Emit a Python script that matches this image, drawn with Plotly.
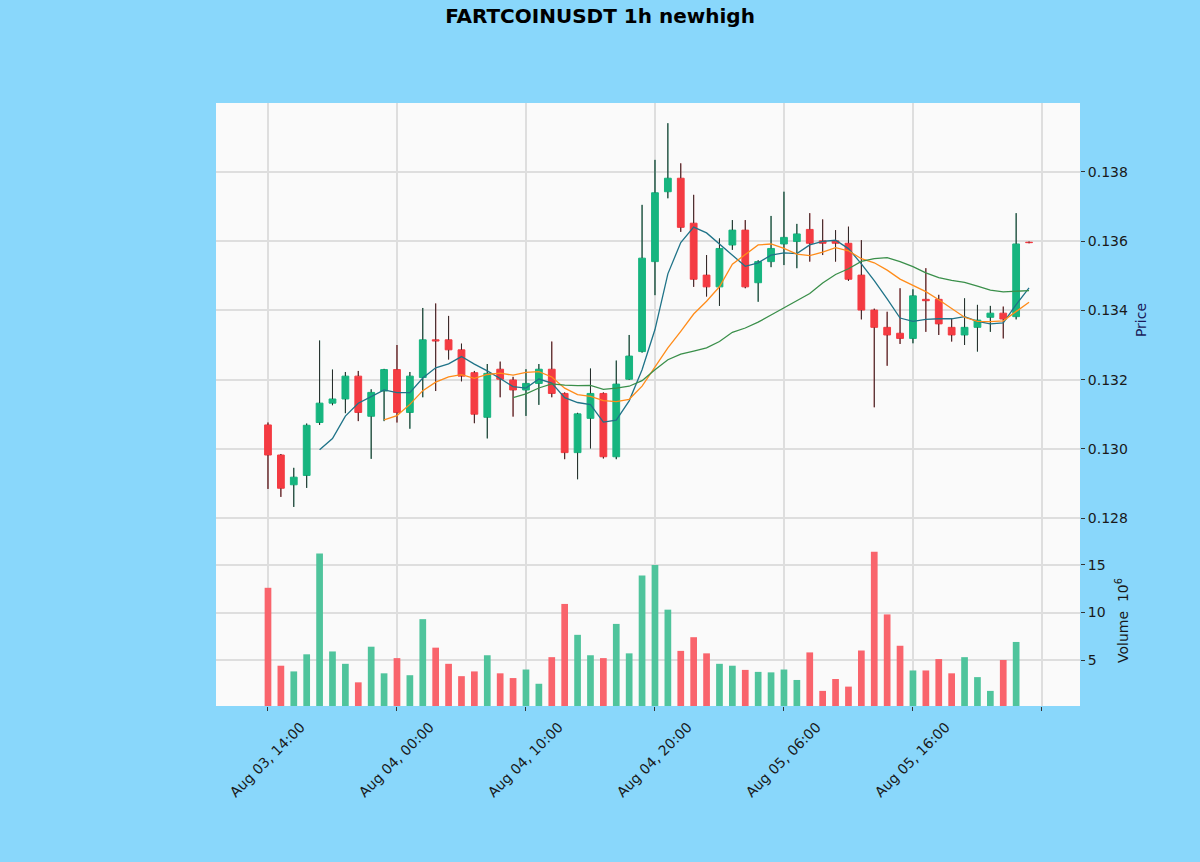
import pandas as pd
import plotly.graph_objects as go

# hourly candles, Aug 03 14:00 -> Aug 06 01:00
opens = [0.13069, 0.12982, 0.12896, 0.12923, 0.13076, 0.13132, 0.13144, 0.13210, 0.13094, 0.13167,
         0.13229, 0.13105, 0.13206, 0.13315, 0.13315, 0.13286, 0.13220, 0.13091, 0.13230, 0.13199,
         0.13170, 0.13189, 0.13230, 0.13160, 0.12989, 0.13088, 0.13160, 0.12977, 0.13201, 0.13281,
         0.13541, 0.13743, 0.13782, 0.13652, 0.13502, 0.13468, 0.13589, 0.13632, 0.13480, 0.13541,
         0.13592, 0.13599, 0.13634, 0.13601, 0.13601, 0.13594, 0.13502, 0.13401, 0.13351, 0.13334,
         0.13319, 0.13432, 0.13432, 0.13351, 0.13329, 0.13351, 0.13380, 0.13392, 0.13382, 0.13597]
highs = [0.13076, 0.12985, 0.12945, 0.13073, 0.13313, 0.13229, 0.13222, 0.13225, 0.13172, 0.13231,
         0.13300, 0.13222, 0.13407, 0.13420, 0.13384, 0.13304, 0.13225, 0.13245, 0.13252, 0.13208,
         0.13230, 0.13245, 0.13310, 0.13163, 0.13104, 0.13232, 0.13163, 0.13255, 0.13329, 0.13705,
         0.13835, 0.13941, 0.13825, 0.13734, 0.13560, 0.13608, 0.13661, 0.13661, 0.13545, 0.13673,
         0.13743, 0.13650, 0.13681, 0.13663, 0.13632, 0.13642, 0.13603, 0.13405, 0.13396, 0.13464,
         0.13461, 0.13522, 0.13445, 0.13377, 0.13435, 0.13416, 0.13413, 0.13411, 0.13681, 0.13599]
lows = [0.12884, 0.12861, 0.12832, 0.12887, 0.13069, 0.13126, 0.13103, 0.13080, 0.12971, 0.13080,
        0.13076, 0.13058, 0.13149, 0.13167, 0.13258, 0.13195, 0.13074, 0.13030, 0.13149, 0.13093,
        0.13095, 0.13127, 0.13149, 0.12970, 0.12912, 0.13001, 0.12972, 0.12970, 0.13199, 0.13278,
        0.13444, 0.13724, 0.13627, 0.13468, 0.13440, 0.13413, 0.13575, 0.13464, 0.13425, 0.13525,
        0.13531, 0.13522, 0.13541, 0.13560, 0.13541, 0.13485, 0.13374, 0.13120, 0.13240, 0.13303,
        0.13305, 0.13338, 0.13329, 0.13310, 0.13300, 0.13281, 0.13338, 0.13319, 0.13374, 0.13594]
closes = [0.12982, 0.12886, 0.12918, 0.13068, 0.13132, 0.13144, 0.13210, 0.13105, 0.13163, 0.13229,
          0.13105, 0.13210, 0.13315, 0.13312, 0.13286, 0.13210, 0.13100, 0.13218, 0.13201, 0.13170,
          0.13189, 0.13230, 0.13160, 0.12989, 0.13101, 0.13160, 0.12977, 0.13187, 0.13268, 0.13551,
          0.13740, 0.13782, 0.13640, 0.13490, 0.13468, 0.13579, 0.13632, 0.13468, 0.13541, 0.13579,
          0.13611, 0.13621, 0.13594, 0.13594, 0.13594, 0.13490, 0.13401, 0.13351, 0.13329, 0.13319,
          0.13442, 0.13428, 0.13361, 0.13329, 0.13351, 0.13372, 0.13392, 0.13375, 0.13592, 0.13596]
volumes = [12.6, 4.4, 3.8, 5.6, 16.2, 5.9, 4.6, 2.65, 6.4, 3.6,
           5.2, 3.4, 9.3, 6.3, 4.6, 3.3, 3.8, 5.5, 3.6, 3.1,
           4.0, 2.5, 5.3, 10.9, 7.65, 5.5, 5.2, 8.8, 5.7, 13.9,
           15.0, 10.3, 5.96, 7.4, 5.7, 4.6, 4.4, 3.96, 3.75, 3.7,
           4.0, 2.9, 5.8, 1.75, 3.0, 2.2, 6.0, 16.4, 9.8, 6.5,
           3.9, 3.9, 5.1, 3.6, 5.3, 3.2, 1.75, 5.0, 6.9, 0.05]  # volume in 1e6

tick_pos = [0, 10, 20, 30, 40, 50, 60]
tick_labels = ['Aug 03, 14:00', 'Aug 04, 00:00', 'Aug 04, 10:00', 'Aug 04, 20:00',
               'Aug 05, 06:00', 'Aug 05, 16:00', '']
price_ticks = [0.128, 0.130, 0.132, 0.134, 0.136, 0.138]
mav_periods = [5, 10, 20]
mav_colors = ['#1f7388', '#ff8c1a', '#3a8f4a']

up_col = '#16b57f'
down_col = '#f43b42'
up_vol = '#4fc49c'
down_vol = '#f9646c'
font = 'DejaVu Sans'

df = pd.DataFrame({'open': opens, 'high': highs, 'low': lows, 'close': closes, 'volume': volumes})
df['x'] = range(len(df))

fig = go.Figure()

fig.add_trace(go.Candlestick(
    x=df['x'], open=df['open'], high=df['high'], low=df['low'], close=df['close'],
    increasing=dict(line=dict(color=up_col, width=1), fillcolor=up_col),
    decreasing=dict(line=dict(color=down_col, width=1), fillcolor=down_col),
    whiskerwidth=0, xaxis='x', yaxis='y', hoverinfo='skip'))

# dark wicks drawn over the coloured ones, outside the bodies only
wx, wy = [], []
for i, r in df.iterrows():
    top = max(r['open'], r['close'])
    bot = min(r['open'], r['close'])
    wx += [r['x'], r['x'], None, r['x'], r['x'], None]
    wy += [top, r['high'], None, r['low'], bot, None]
fig.add_trace(go.Scatter(x=wx, y=wy, mode='lines', line=dict(color='#2a2a2a', width=1),
                         xaxis='x', yaxis='y', hoverinfo='skip'))

for p, c in zip(mav_periods, mav_colors):
    ma = df['close'].rolling(p).mean()
    fig.add_trace(go.Scatter(x=df['x'], y=ma, mode='lines', line=dict(color=c, width=1.3),
                             xaxis='x', yaxis='y', hoverinfo='skip'))

vol_colors = [up_vol if c >= o else down_vol for o, c in zip(df['open'], df['close'])]
fig.add_trace(go.Bar(x=df['x'], y=df['volume'], marker=dict(color=vol_colors, line_width=0),
                     width=0.52, xaxis='x2', yaxis='y2', hoverinfo='skip'))

grid = dict(showgrid=True, gridcolor='#dedede', gridwidth=1.5, zeroline=False)

# date labels centred under the ticks, like matplotlib's rotated labels
date_notes = [dict(text=t, x=p, y=0, xref='x2', yref='paper', xanchor='center', yanchor='top',
                   yshift=-10, textangle=-45, showarrow=False, font=dict(size=14, color='#1a1a1a'))
              for p, t in zip(tick_pos, tick_labels) if t]

fig.update_layout(
    width=1200, height=862,
    paper_bgcolor='#89d7fb', plot_bgcolor='#fafafa',
    margin=dict(l=216, r=120, t=103, b=156),
    showlegend=False,
    boxgap=0.25,
    font=dict(family=font, size=14, color='#1a1a1a'),
    title=dict(text='<b>FARTCOINUSDT 1h newhigh</b>', x=0.5, xref='container', y=0.9814,
               yref='container', yanchor='middle', font=dict(size=20, color='black')),
    xaxis=dict(domain=[0, 1], anchor='y', range=[-4.03, 62.95], tickvals=tick_pos,
               showticklabels=False, ticks='', rangeslider=dict(visible=False), **grid),
    xaxis2=dict(domain=[0, 1], anchor='y2', matches='x', range=[-4.03, 62.95], tickvals=tick_pos,
                showticklabels=False, ticks='outside', ticklen=4, tickcolor='#333', **grid),
    yaxis=dict(domain=[0.2786, 1], anchor='x', side='right', range=[0.127422, 0.139994],
               tickvals=price_ticks, tickformat='.3f', ticks='outside', ticklen=4,
               tickcolor='#333', **grid),
    yaxis2=dict(domain=[0, 0.2786], anchor='x2', side='right', range=[0.16, 17.84],
                tickvals=[5, 10, 15], ticks='outside', ticklen=4, tickcolor='#333', **grid),
    annotations=[
        dict(text='Price', x=1.0706, y=0.640, xref='paper', yref='paper', showarrow=False,
             xanchor='center', yanchor='middle', textangle=-90,
             font=dict(size=14, color='#1a1a5a')),
        dict(text='Volume&nbsp;&nbsp;10<sup>6</sup>', x=1.0486, y=0.1426, xref='paper',
             yref='paper', showarrow=False, xanchor='center', yanchor='middle', textangle=-90,
             font=dict(size=14, color='#1a1a1a')),
    ] + date_notes,
)

fig.write_html('out.html', config={'displayModeBar': False},
               post_script="document.body.style.margin='0';")
